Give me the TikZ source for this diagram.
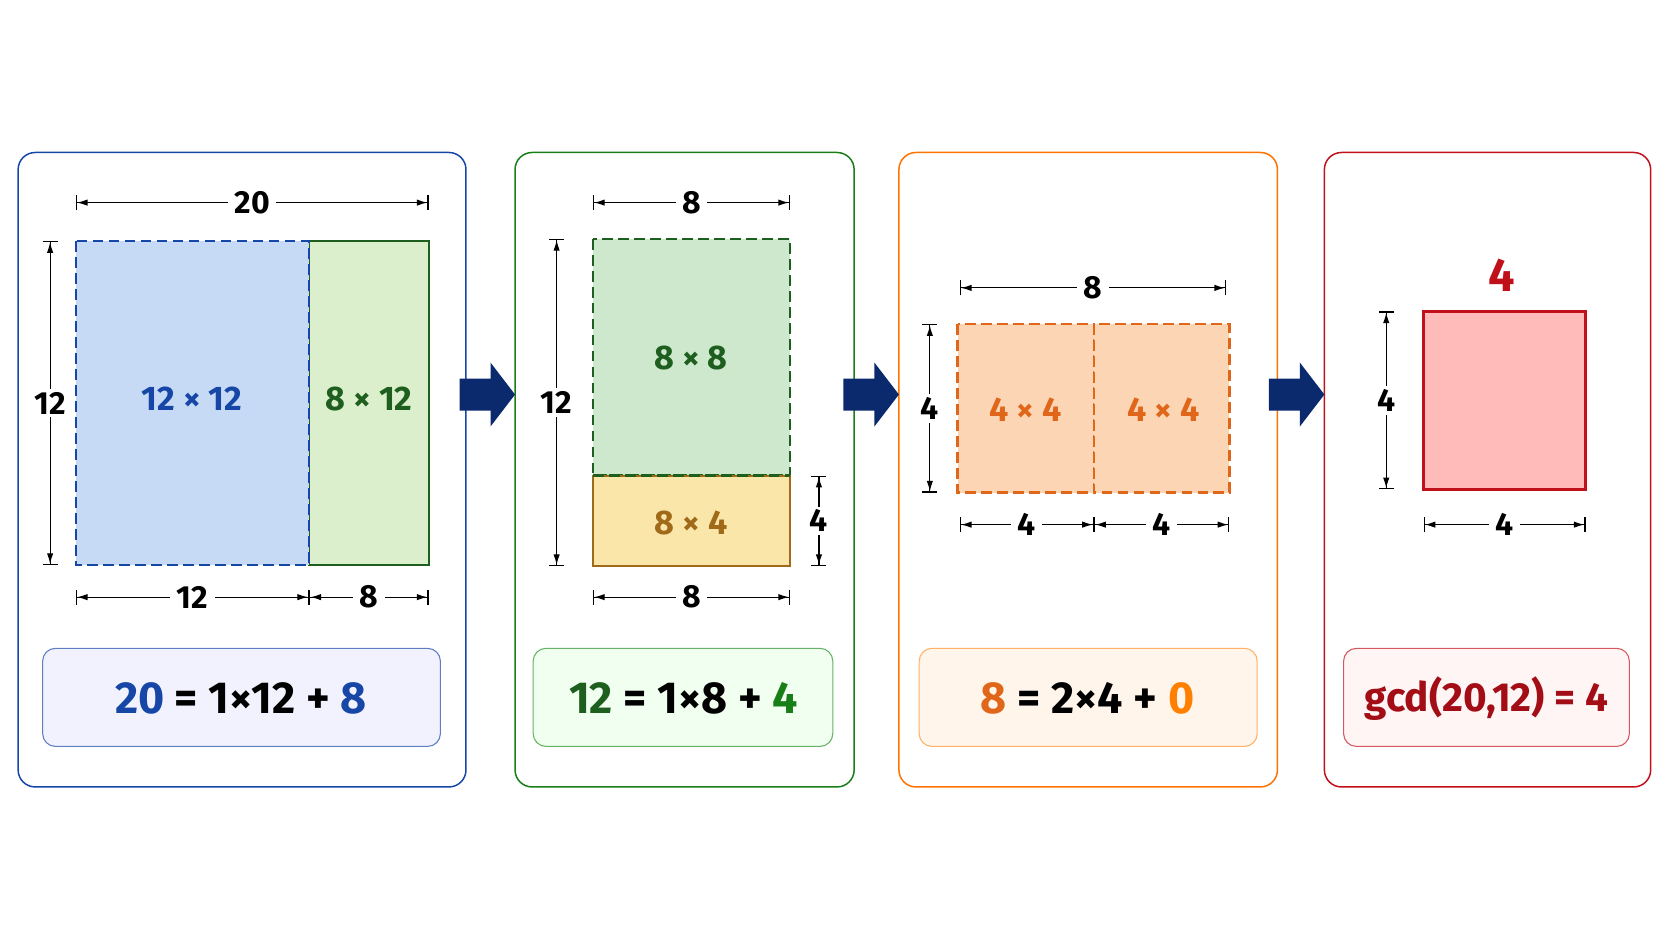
\documentclass[tikz,border=0pt]{standalone}
\usepackage{fontspec}
\setmainfont{Fira Sans}
\usetikzlibrary{arrows.meta}
\definecolor{cblue}{HTML}{1747A6}
\definecolor{cgreen}{HTML}{1E5E1E}
\definecolor{cyel}{HTML}{A06A18}
\definecolor{corange}{HTML}{E0661A}
\definecolor{cred}{HTML}{C0101A}
\definecolor{navy}{HTML}{0B2A6E}
\begin{document}
\begin{tikzpicture}[x=1pt,y=-1pt,
 panel/.style={rounded corners=16pt,line width=1.4pt},
 eq/.style={rounded corners=12pt,line width=1pt},
 dim/.style={line width=1.1pt,{Bar[width=14pt]Latex[length=10pt,width=6pt]}-{Latex[length=10pt,width=6pt]Bar[width=14pt]}},
 dl/.style={fill=white,font=\bfseries\fontsize{30}{32}\selectfont,inner sep=6pt},
 lab/.style={font=\bfseries\fontsize{32}{34}\selectfont},
 eqt/.style={font=\bfseries\fontsize{42}{44}\selectfont},
 dsh/.style={dash pattern=on 10pt off 5pt,line width=2.2pt},
 bigarrow/.pic={\fill[navy] (-26,-15) -- (3,-15) -- (3,-30) -- (26,0) -- (3,30) -- (3,15) -- (-26,15) -- cycle;}]
\useasboundingbox (0,0) rectangle (1568,882);
% panels
\draw[panel,cblue] (17,143) rectangle (437,738);
\draw[panel,cgreen!80!green] (483,143) rectangle (801,738);
\draw[panel,orange!90!red] (843,143) rectangle (1198,738);
\draw[panel,cred] (1242,143) rectangle (1548,738);
% arrows
\pic (a1) at (457,370) {bigarrow};
\pic (a2) at (817,370) {bigarrow};
\pic (a3) at (1216,370) {bigarrow};
% panel 1
\draw[fill={rgb,255:red,220;green,239;blue,204},draw=cgreen,line width=2pt] (290,226) rectangle (402,530);
\draw[fill={rgb,255:red,198;green,218;blue,246},draw=cblue,dsh] (71,226) rectangle (290,530);
\node[lab,text=cblue] (t1) at (180,374) {12 × 12};
\node[lab,text=cgreen] (t2) at (346,374) {8 × 12};
\coordinate (d1a) at (71,190); \coordinate (d1b) at (402,190);
\draw[dim] (d1a) -- node[dl]{20} (d1b);
\coordinate (d2a) at (47,226); \coordinate (d2b) at (47,530);
\draw[dim] (d2a) -- node[dl,inner sep=3pt]{12} (d2b);
\coordinate (d3a) at (71,560); \coordinate (d3b) at (290,560); \coordinate (d3c) at (402,560);
\draw[dim] (d3a) -- node[dl]{12} (d3b);
\draw[dim] (d3b) -- node[dl]{8} (d3c);
\draw[eq,cblue!70,fill=blue!5] (40,608) rectangle (413,700);
\node[eqt] (e1) at (226,655) {\textcolor{cblue}{20} = 1×12 + \textcolor{cblue}{8}};
% panel 2
\draw[fill={rgb,255:red,205;green,232;blue,204},draw=cgreen,dsh] (556,224) rectangle (741,446);
\draw[fill={rgb,255:red,251;green,230;blue,170},draw=cyel,line width=2pt] (556,446) rectangle (741,531);
\draw[cgreen,dsh] (556,446) -- (741,446);
\node[lab,text=cgreen] (t3) at (648,336) {8 × 8};
\node[lab,text=cyel] (t4) at (648,490) {8 × 4};
\coordinate (d4a) at (556,190); \coordinate (d4b) at (741,190);
\draw[dim] (d4a) -- node[dl]{8} (d4b);
\coordinate (d5a) at (522,224); \coordinate (d5b) at (522,531);
\draw[dim] (d5a) -- node[dl,inner sep=3pt]{12} (d5b);
\coordinate (d6a) at (768,446); \coordinate (d6b) at (768,531);
\draw[dim] (d6a) -- node[dl,inner sep=3pt]{4} (d6b);
\coordinate (d7a) at (556,560); \coordinate (d7b) at (741,560);
\draw[dim] (d7a) -- node[dl]{8} (d7b);
\draw[eq,green!50!black!60,fill=green!6] (500,608) rectangle (781,700);
\node[eqt] (e2) at (641,655) {\textcolor{cgreen}{12} = 1×8 + \textcolor{cgreen!80!green}{4}};
% panel 3
\draw[fill={rgb,255:red,252;green,213;blue,181},draw=corange,dsh] (898,304) rectangle (1026,462);
\draw[fill={rgb,255:red,252;green,213;blue,181},draw=corange,dsh] (1026,304) rectangle (1153,462);
\node[lab,text=corange] (t5) at (962,384) {4 × 4};
\node[lab,text=corange] (t6) at (1091,384) {4 × 4};
\coordinate (d8a) at (900,270); \coordinate (d8b) at (1150,270);
\draw[dim] (d8a) -- node[dl]{8} (d8b);
\coordinate (d9a) at (872,304); \coordinate (d9b) at (872,462);
\draw[dim] (d9a) -- node[dl,inner sep=3pt]{4} (d9b);
\coordinate (d10a) at (900,492); \coordinate (d10b) at (1026,492); \coordinate (d10c) at (1153,492);
\draw[dim] (d10a) -- node[dl]{4} (d10b);
\draw[dim] (d10b) -- node[dl]{4} (d10c);
\draw[eq,orange!60,fill=orange!8] (862,608) rectangle (1179,700);
\node[eqt] (e3) at (1020,655) {\textcolor{corange}{8} = 2×4 + \textcolor{orange}{0}};
% panel 4
\draw[fill={rgb,255:red,255;green,186;blue,186},draw=cred,line width=2.2pt] (1335,292) rectangle (1487,459);
\node[font=\bfseries\fontsize{44}{46}\selectfont,text=cred] (t7) at (1408,258) {4};
\coordinate (d11a) at (1300,292); \coordinate (d11b) at (1300,459);
\draw[dim] (d11a) -- node[dl,inner sep=3pt]{4} (d11b);
\coordinate (d12a) at (1335,492); \coordinate (d12b) at (1487,492);
\draw[dim] (d12a) -- node[dl]{4} (d12b);
\draw[eq,cred!70,fill=red!4] (1260,608) rectangle (1528,700);
\node[font=\bfseries\fontsize{38}{40}\selectfont,text=cred!85!black] (e4) at (1394,655) {gcd(20,12) = 4};
\end{tikzpicture}
\end{document}
